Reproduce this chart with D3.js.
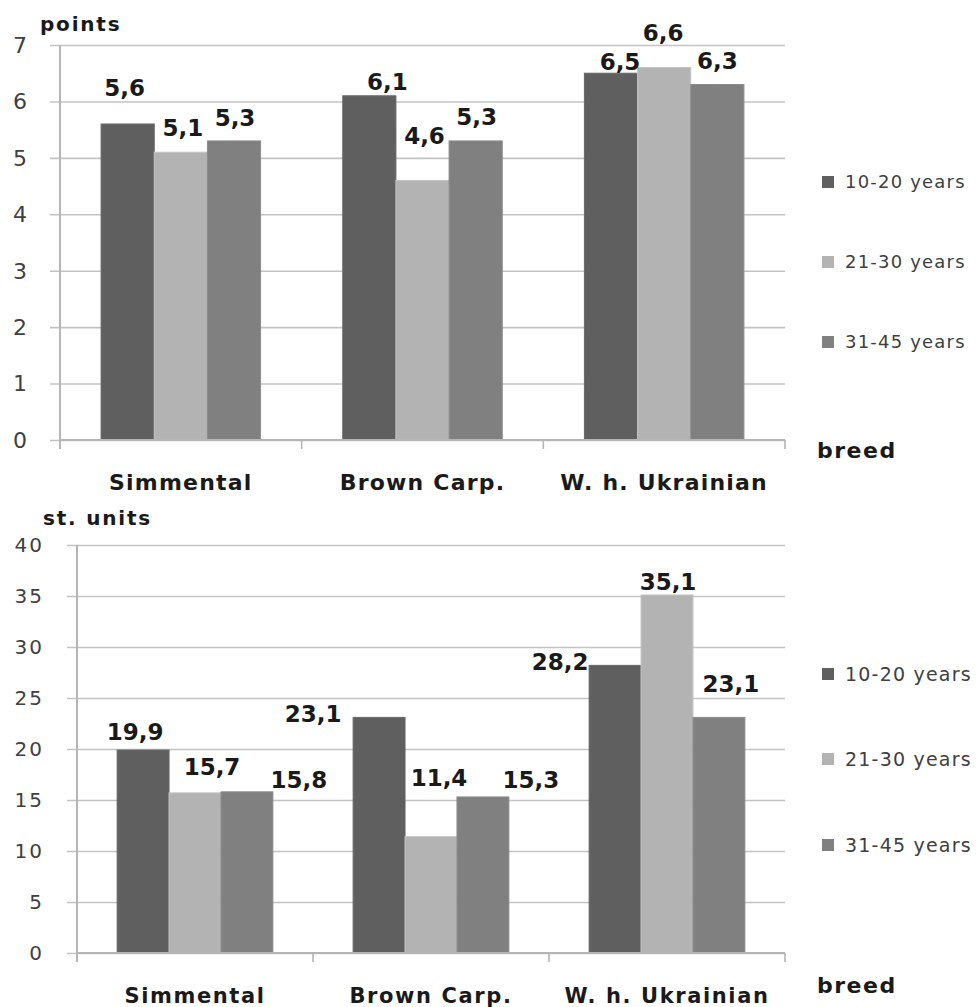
<!DOCTYPE html>
<html>
<head>
<meta charset="utf-8">
<script src="https://cdn.jsdelivr.net/npm/d3@7"></script>
<style>
  html, body { margin: 0; padding: 0; background: #fff; }
  svg { display: block; }
</style>
</head>
<body>
<svg id="chart" width="978" height="1007"></svg>
<script>
// ---------------- data ----------------
const categories = ["Simmental", "Brown Carp.", "W. h. Ukrainian"];
const seriesNames = ["10-20 years", "21-30 years", "31-45 years"];

// chart 1: points
const points10to20 = [5.6, 6.1, 6.5];
const points21to30 = [5.1, 4.6, 6.6];
const points31to45 = [5.3, 5.3, 6.3];
const pointsTicks = [0, 1, 2, 3, 4, 5, 6, 7];

// chart 2: st. units
const units10to20 = [19.9, 23.1, 28.2];
const units21to30 = [15.7, 11.4, 35.1];
const units31to45 = [15.8, 15.3, 23.1];
const unitsTicks = [0, 5, 10, 15, 20, 25, 30, 35, 40];

// ---------------- layout (not data) ----------------
const seriesColors = ["#5f5f5f", "#b3b3b3", "#808080"];

// label nudges: [dx from bar centre, rise of label centre above bar top]
const topLabelNudge = [
  [[-3, 36], [18, 14], [9, 11]],
  [[2, 24], [2, 45], [-1, 35]],
  [[1, 23], [1, 24], [0, 24]]
];
const bottomLabelNudge = [
  [[-8, 18], [-66, 4], [-55, 4]],
  [[17, 26], [8, 59], [1, 13]],
  [[52, 12], [48, 17], [12, 34]]
];

const svg = d3.select("#chart");
svg.append("rect").attr("width", 978).attr("height", 1007).attr("fill", "#ffffff");

function fmt(v) { return String(v).replace(".", ","); }

function drawChart(opt) {
  const g = svg.append("g");
  const series = opt.series;
  const x0 = d3.scaleBand().domain(categories).range([opt.left, opt.right])
    .paddingInner(0.34).paddingOuter(0.17);
  const x1 = d3.scaleBand().domain(d3.range(series.length)).range([0, x0.bandwidth()]);
  const y = d3.scaleLinear().domain([0, opt.max]).range([opt.bottom, opt.top]);

  // gridlines + y ticks (extend left of the axis)
  const yAxis = d3.axisLeft(y).tickValues(opt.ticks)
    .tickSize(-(opt.right - opt.left) - 10).tickFormat("");
  const ga = g.append("g").attr("transform", `translate(${opt.right},0)`)
    .call(d3.axisRight(y).tickValues(opt.ticks).tickSize(-(opt.right - opt.left) - 10).tickFormat(""));
  ga.select(".domain").remove();
  ga.selectAll(".tick line").attr("stroke", "#c3c3c3").attr("stroke-width", 1.6);

  // y tick labels
  g.selectAll(".ylab").data(opt.ticks).join("text")
    .attr("x", opt.tickLabelX).attr("y", d => y(d)).attr("dy", "0.36em")
    .attr("text-anchor", "end")
    .attr("font-family", "DejaVu Sans, sans-serif")
    .attr("font-size", opt.tickFont).attr("fill", "#404040")
    .attr("letter-spacing", opt.tickSpacing)
    .text(d => d);

  // bars
  series.forEach((vals, si) => {
    g.selectAll(".bar" + si).data(vals).join("rect")
      .attr("x", (d, i) => x0(categories[i]) + x1(si))
      .attr("width", x1.bandwidth())
      .attr("y", d => y(d))
      .attr("height", d => y(0) - y(d))
      .attr("fill", seriesColors[si])
      .attr("stroke", d3.color(seriesColors[si]).brighter(0.25))
      .attr("stroke-width", 1);
  });

  // y axis line
  g.append("line").attr("x1", opt.left).attr("x2", opt.left)
    .attr("y1", opt.top).attr("y2", opt.bottom + 9)
    .attr("stroke", "#b5b5b5").attr("stroke-width", 2);

  // x axis with category boundary ticks
  const xa = g.append("g").attr("transform", `translate(0,${opt.bottom})`);
  xa.append("line").attr("x1", opt.left).attr("x2", opt.right)
    .attr("stroke", "#b5b5b5").attr("stroke-width", 2);
  const step = x0.step();
  const bounds = d3.range(1, categories.length + 1).map(i => opt.left + i * step);
  xa.selectAll(".xt").data(bounds).join("line")
    .attr("x1", d => d).attr("x2", d => d).attr("y1", 0).attr("y2", 9)
    .attr("stroke", "#b5b5b5").attr("stroke-width", 1.6);

  // category labels
  g.selectAll(".cat").data(categories).join("text")
    .attr("x", d => x0(d) + x0.bandwidth() / 2)
    .attr("y", opt.catY).attr("dy", "0.36em")
    .attr("text-anchor", "middle")
    .attr("font-family", "DejaVu Sans, sans-serif").attr("font-weight", "bold")
    .attr("font-size", opt.catFont).attr("letter-spacing", opt.catSpacing)
    .attr("fill", "#1a1a1a")
    .text(d => d);

  // value labels
  series.forEach((vals, si) => {
    g.selectAll(".val" + si).data(vals).join("text")
      .attr("x", (d, i) => x0(categories[i]) + x1(si) + x1.bandwidth() / 2 + opt.nudge[si][i][0])
      .attr("y", (d, i) => y(d) - opt.nudge[si][i][1])
      .attr("dy", "0.36em")
      .attr("text-anchor", "middle")
      .attr("font-family", "DejaVu Sans, sans-serif").attr("font-weight", "bold")
      .attr("font-size", 23).attr("fill", "#1a1a1a")
      .text(d => fmt(d));
  });

  // unit title
  g.append("text").attr("x", opt.unitX).attr("y", opt.unitY)
    .attr("font-family", "DejaVu Sans, sans-serif").attr("font-weight", "bold")
    .attr("font-size", 20).attr("letter-spacing", 1.8).attr("fill", "#1a1a1a")
    .text(opt.unit);

  // "breed"
  g.append("text").attr("x", 817).attr("y", opt.breedY).attr("dy", "0.36em")
    .attr("font-family", "DejaVu Sans, sans-serif").attr("font-weight", "bold")
    .attr("font-size", 22).attr("letter-spacing", 1.5).attr("fill", "#1a1a1a")
    .text("breed");

  // legend
  const lg = g.selectAll(".leg").data(seriesNames).join("g")
    .attr("transform", (d, i) => `translate(822,${opt.legendY[i]})`);
  lg.append("rect").attr("x", 0).attr("y", -6).attr("width", 12).attr("height", 12)
    .attr("fill", (d, i) => seriesColors[i]);
  lg.append("text").attr("x", 23).attr("y", 0).attr("dy", "0.36em")
    .attr("font-family", "DejaVu Sans, sans-serif")
    .attr("font-size", opt.legendFont).attr("letter-spacing", 1.2).attr("fill", "#404040")
    .text(d => d);
}

drawChart({
  series: [points10to20, points21to30, points31to45],
  ticks: pointsTicks, max: 7,
  left: 60, right: 785, top: 45, bottom: 440,
  tickLabelX: 27, tickFont: 22, tickSpacing: 0,
  catY: 482, catFont: 22, catSpacing: 1.2,
  nudge: topLabelNudge,
  unit: "points", unitX: 40, unitY: 31,
  breedY: 450,
  legendY: [182, 262, 342], legendFont: 18
});

drawChart({
  series: [units10to20, units21to30, units31to45],
  ticks: unitsTicks, max: 40,
  left: 77, right: 785, top: 545, bottom: 953,
  tickLabelX: 44, tickFont: 20, tickSpacing: 2,
  catY: 995, catFont: 21, catSpacing: 1.6,
  nudge: bottomLabelNudge,
  unit: "st. units", unitX: 43, unitY: 525,
  breedY: 985,
  legendY: [674, 759, 845], legendFont: 19
});
</script>
</body>
</html>
